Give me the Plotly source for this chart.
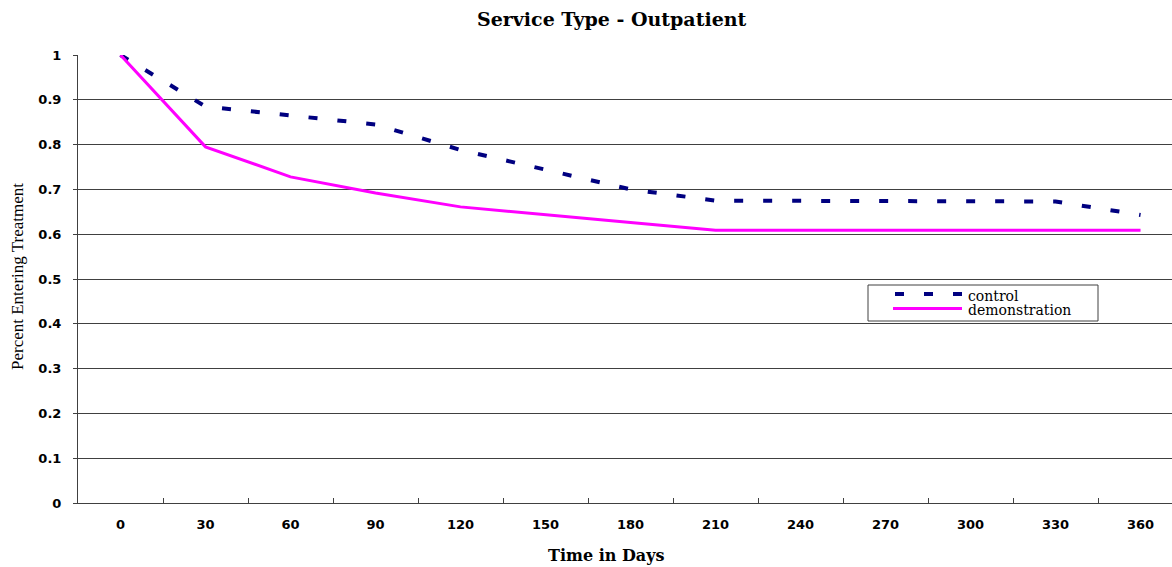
import plotly.graph_objects as go

days = ["0", "30", "60", "90", "120", "150", "180", "210", "240", "270", "300", "330", "360"]
control = [1.0, 0.885, 0.865, 0.845, 0.788, 0.744, 0.700, 0.675, 0.674, 0.674, 0.674, 0.673, 0.643]
demonstration = [1.0, 0.795, 0.728, 0.692, 0.661, 0.643, 0.626, 0.609, 0.609, 0.609, 0.609, 0.609, 0.609]
y_ticks = [0, 0.1, 0.2, 0.3, 0.4, 0.5, 0.6, 0.7, 0.8, 0.9, 1]
y_tick_text = ["0", "0.1", "0.2", "0.3", "0.4", "0.5", "0.6", "0.7", "0.8", "0.9", "1"]

serif = "Liberation Serif, Times New Roman, serif"
wide_serif = "DejaVu Serif, serif"
sans = "DejaVu Sans, Arial, sans-serif"

CONTROL_COLOR = "#000080"
DEMO_COLOR = "#FF00FF"
CONTROL_DASH = "9px,20px"

# plot-area geometry in pixels, used to place the key box and titles
W, H = 1172, 567
L, T, B = 78, 55, 64
PW = W - L
PH = H - T - B


def px_x(x):
    return (x - L) / PW


def px_y(y):
    return (H - B - y) / PH


fig = go.Figure()
fig.add_trace(go.Scatter(
    x=days, y=control, name="control", mode="lines",
    line=dict(color=CONTROL_COLOR, width=4, dash=CONTROL_DASH),
))
fig.add_trace(go.Scatter(
    x=days, y=demonstration, name="demonstration", mode="lines",
    line=dict(color=DEMO_COLOR, width=3),
))

# boxed key with tight line spacing
shapes = [
    dict(type="rect", xref="paper", yref="paper",
         x0=px_x(868), x1=px_x(1098), y0=px_y(285), y1=px_y(321),
         line=dict(color="#404040", width=1), fillcolor="white", layer="above"),
    dict(type="line", xref="paper", yref="paper",
         x0=px_x(895), x1=px_x(962), y0=px_y(294), y1=px_y(294),
         line=dict(color=CONTROL_COLOR, width=4, dash=CONTROL_DASH), layer="above"),
    dict(type="line", xref="paper", yref="paper",
         x0=px_x(893), x1=px_x(962), y0=px_y(308.5), y1=px_y(308.5),
         line=dict(color=DEMO_COLOR, width=3), layer="above"),
]

annotations = [
    dict(text="<b>Service Type - Outpatient</b>", xref="paper", yref="paper",
         x=px_x(612), y=px_y(19), showarrow=False,
         xanchor="center", yanchor="middle",
         font=dict(family=wide_serif, size=19, color="black")),
    dict(text="<b>Time in Days</b>", xref="paper", yref="paper",
         x=px_x(606), y=px_y(555), showarrow=False,
         xanchor="center", yanchor="middle",
         font=dict(family=wide_serif, size=16, color="black")),
    dict(text="Percent Entering Treatment", xref="paper", yref="paper",
         x=px_x(17), y=px_y(277), showarrow=False, textangle=-90,
         xanchor="center", yanchor="middle",
         font=dict(family=serif, size=17, color="black")),
    dict(text="control", xref="paper", yref="paper",
         x=px_x(966), y=px_y(296), showarrow=False,
         xanchor="left", yanchor="middle",
         font=dict(family=wide_serif, size=14, color="black")),
    dict(text="demonstration", xref="paper", yref="paper",
         x=px_x(966), y=px_y(310), showarrow=False,
         xanchor="left", yanchor="middle",
         font=dict(family=wide_serif, size=14, color="black")),
]

fig.update_layout(
    width=W, height=H,
    margin=dict(l=L, r=0, t=T, b=B),
    paper_bgcolor="white", plot_bgcolor="white",
    showlegend=False,
    shapes=shapes,
    annotations=annotations,
)

tick_font = dict(family=sans, size=13, color="black", weight="bold")

fig.update_xaxes(
    type="category", range=[-0.5, 12.37],
    tickson="boundaries", ticks="inside", ticklen=5, tickcolor="#404040",
    showgrid=False, showline=True, linecolor="#404040", linewidth=1,
    tickfont=tick_font,
    ticklabelstandoff=9, zeroline=False,
)
fig.update_yaxes(
    range=[0, 1], tickvals=y_ticks, ticktext=y_tick_text,
    ticks="outside", ticklen=4, tickcolor="#404040",
    showgrid=True, gridcolor="#404040", gridwidth=1,
    showline=True, linecolor="#404040", linewidth=1,
    tickfont=tick_font,
    ticklabelstandoff=9, zeroline=False,
)

fig.write_html("out.html")
